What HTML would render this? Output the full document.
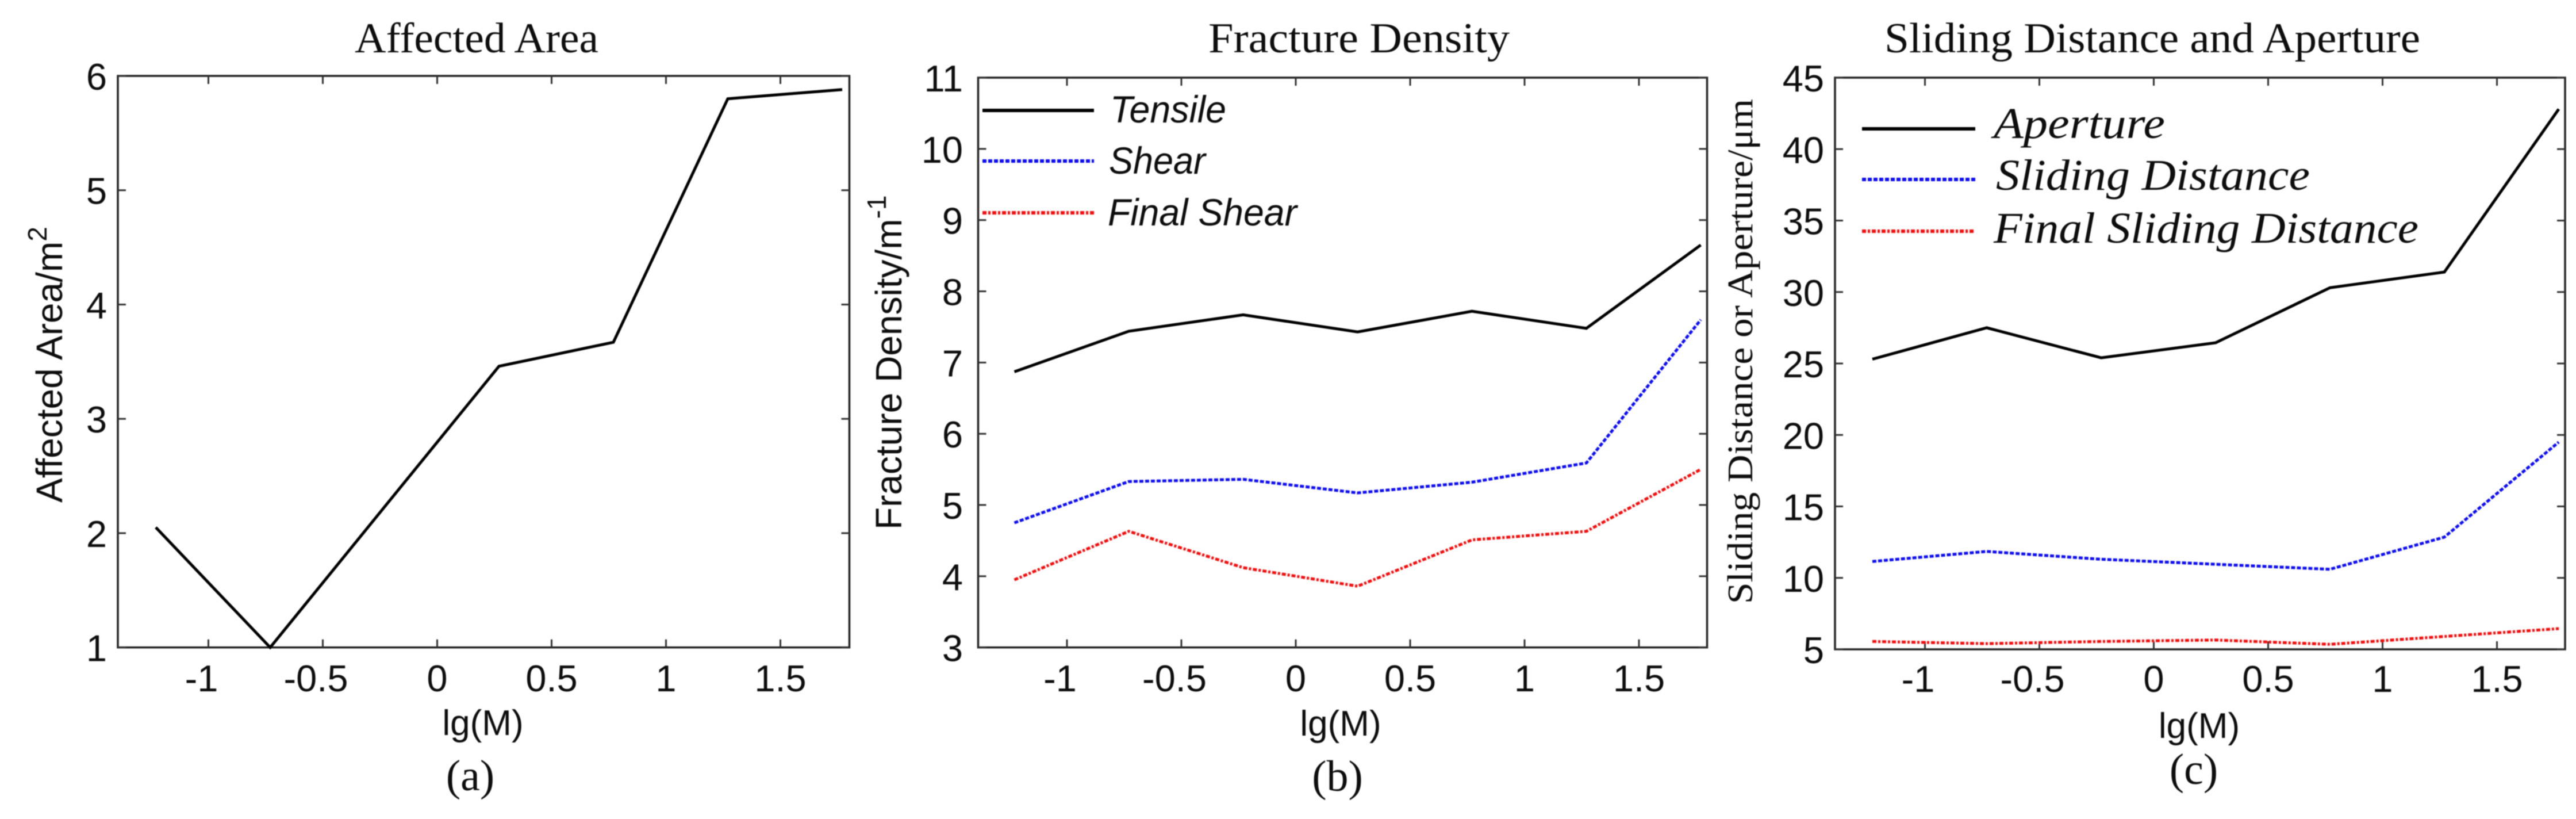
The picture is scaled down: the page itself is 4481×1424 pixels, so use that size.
<!DOCTYPE html>
<html>
<head>
<meta charset="utf-8">
<title>Affected Area, Fracture Density, Sliding Distance and Aperture</title>
<style>
html,body{margin:0;padding:0;background:#fff;width:4481px;height:1424px;overflow:hidden}
svg{display:block}
.sans{font-family:"Liberation Sans",sans-serif;fill:#111}
.serif{font-family:"Liberation Serif",serif;fill:#111}
</style>
</head>
<body>
<svg id="fig" xmlns="http://www.w3.org/2000/svg" width="4481" height="1424" viewBox="0 0 4481 1424">
<defs><filter id="soft" x="-2%" y="-2%" width="104%" height="104%"><feGaussianBlur stdDeviation="0.8"/></filter></defs>
<rect width="4481" height="1424" fill="#fff"/>
<g id="root" filter="url(#soft)"></g>
</svg>
<script>
const lgM = [-1.23, -0.73, -0.23, 0.27, 0.77, 1.27, 1.77];
const xTickValues = [-1, -0.5, 0, 0.5, 1, 1.5];
const xTickLabels = ['-1', '-0.5', '0', '0.5', '1', '1.5'];

const affectedArea = [2.05, 1.0, 2.23, 3.46, 3.67, 5.8, 5.88];
const areaTicks = [1, 2, 3, 4, 5, 6];

const tensileDensity = [6.87, 7.44, 7.67, 7.43, 7.72, 7.48, 8.65];
const shearDensity = [4.75, 5.33, 5.36, 5.17, 5.32, 5.59, 7.6];
const finalShearDensity = [3.95, 4.63, 4.12, 3.86, 4.51, 4.63, 5.5];
const densityTicks = [3, 4, 5, 6, 7, 8, 9, 10, 11];

const aperture = [25.3, 27.5, 25.4, 26.45, 30.3, 31.4, 42.8];
const slidingDistance = [11.15, 11.85, 11.3, 10.95, 10.6, 12.85, 19.5];
const finalSlidingDistance = [5.55, 5.4, 5.55, 5.65, 5.35, 5.9, 6.45];
const apertureTicks = [5, 10, 15, 20, 25, 30, 35, 40, 45];

const NS = 'http://www.w3.org/2000/svg';
const root = document.getElementById('root');
const SOLID = {color: '#000', dash: ''};
const BLUE = {color: '#0a0af5', dash: '7 3'};
const RED = {color: '#f50a0a', dash: '7 3 4 3'};

function make(parent, tag, attrs, name, text) {
  const el = document.createElementNS(NS, tag);
  for (const k in attrs) el.setAttribute(k, attrs[k]);
  
  
  if (text !== undefined) el.textContent = text;
  parent.appendChild(el);
  return el;
}

function drawPanel(p) {
  const g = make(root, 'g', {}, p.id + '-panel');
  const xs = v => p.x0Px + (v - p.x0Val) * p.xUnit;
  const ys = v => p.bottom - (v - p.yMin) / (p.yMax - p.yMin) * (p.bottom - p.top);

  make(g, 'rect', {x: p.left, y: p.top, width: p.right - p.left, height: p.bottom - p.top, fill: 'none', stroke: '#222', 'stroke-width': 3.5}, p.id + '-plot-frame');

  xTickValues.forEach((v, i) => {
    const x = xs(v);
    make(g, 'path', {d: `M${x} ${p.bottom}v-14M${x} ${p.top}v14`, stroke: '#333', 'stroke-width': 3, fill: 'none'}, p.id + '-x-tick');
    make(g, 'text', {x: x - (v < 0 ? 12 : 0), y: p.xTickY, 'text-anchor': 'middle', 'font-size': 65, class: 'sans'}, p.id + '-x-tick-label', xTickLabels[i]);
  });
  p.yTicks.forEach(v => {
    const y = ys(v);
    make(g, 'path', {d: `M${p.left} ${y}h14M${p.right} ${y}h-14`, stroke: '#333', 'stroke-width': 3, fill: 'none'}, p.id + '-y-tick');
    make(g, 'text', {x: p.yTickX, y: y + 24, 'text-anchor': 'end', 'font-size': 65, class: 'sans'}, p.id + '-y-tick-label', String(v));
  });

  p.series.forEach(s => {
    const pts = lgM.map((x, i) => xs(x).toFixed(1) + ',' + ys(s.values[i]).toFixed(1)).join(' ');
    make(g, 'polyline', {points: pts, fill: 'none', stroke: s.style.color, 'stroke-width': 5, 'stroke-dasharray': s.style.dash, 'stroke-linejoin': 'miter'}, p.id + '-' + s.name + '-line');
    if (s.legend) {
      const L = s.legend;
      make(g, 'line', {x1: p.legendX1, x2: p.legendX2, y1: L.lineY, y2: L.lineY, stroke: s.style.color, 'stroke-width': 6, 'stroke-dasharray': s.style.dash}, p.id + '-' + s.name + '-legend-swatch');
      make(g, 'text', {x: L.textX, y: L.textY, 'font-size': p.legendFont, 'font-style': 'italic', class: p.legendClass, textLength: L.textLen, lengthAdjust: 'spacingAndGlyphs'}, p.id + '-' + s.name + '-legend-label', s.label);
    }
  });

  make(g, 'text', {x: p.titleX, y: 91, 'font-size': 74, class: 'serif', textLength: p.titleLen, lengthAdjust: 'spacingAndGlyphs'}, p.id + '-title', p.title);
  make(g, 'text', {x: p.xLabelX, y: p.xLabelY, 'text-anchor': 'middle', 'font-size': 62, class: 'sans'}, p.id + '-x-axis-title', 'lg(M)');
  make(g, 'text', {x: p.capX, y: p.capY, 'text-anchor': 'middle', 'font-size': 76, class: 'serif'}, p.id + '-caption', p.caption);

  const yl = make(g, 'text', {transform: `translate(${p.yLabelX} ${p.yLabelY}) rotate(-90)`, 'font-size': p.yLabelFont, class: p.yLabelClass}, p.id + '-y-axis-title');
  if (p.yLabelLen) { yl.setAttribute('textLength', p.yLabelLen); yl.setAttribute('lengthAdjust', 'spacingAndGlyphs'); }
  yl.appendChild(document.createTextNode(p.yLabel));
  if (p.yLabelSup) {
    make(yl, 'tspan', {dy: -27, 'font-size': 46}, p.id + '-y-axis-title-exponent', p.yLabelSup);
  }
}

drawPanel({
  id: 'affected-area', title: 'Affected Area', titleX: 617, titleLen: 424,
  left: 205, right: 1477.5, top: 132, bottom: 1125.7,
  x0Px: 760.5, x0Val: 0, xUnit: 398,
  yMin: 1, yMax: 6, yTicks: areaTicks,
  xTickY: 1202, yTickX: 186,
  xLabelX: 840, xLabelY: 1278, capX: 818, capY: 1374, caption: '(a)',
  yLabel: 'Affected Area/m', yLabelSup: '2', yLabelX: 108, yLabelY: 874, yLabelFont: 64, yLabelClass: 'sans',
  legendX1: 0, legendX2: 0, legendFont: 66, legendClass: 'sans',
  series: [{name: 'affected-area', values: affectedArea, style: SOLID}]
});

drawPanel({
  id: 'fracture-density', title: 'Fracture Density', titleX: 2102, titleLen: 524,
  left: 1701.5, right: 2969.5, top: 135, bottom: 1125.7,
  x0Px: 2254, x0Val: 0, xUnit: 398,
  yMin: 3, yMax: 11, yTicks: densityTicks,
  xTickY: 1202, yTickX: 1675,
  xLabelX: 2332, xLabelY: 1279, capX: 2326.5, capY: 1375, caption: '(b)',
  yLabel: 'Fracture Density/m', yLabelSup: '-1', yLabelX: 1568, yLabelY: 921, yLabelFont: 64, yLabelClass: 'sans',
  legendX1: 1709, legendX2: 1903, legendFont: 66, legendClass: 'sans',
  series: [
    {name: 'tensile', label: 'Tensile', values: tensileDensity, style: SOLID, legend: {lineY: 192, textX: 1931, textY: 213, textLen: 202}},
    {name: 'shear', label: 'Shear', values: shearDensity, style: BLUE, legend: {lineY: 280, textX: 1929, textY: 302, textLen: 168}},
    {name: 'final-shear', label: 'Final Shear', values: finalShearDensity, style: RED, legend: {lineY: 370, textX: 1927, textY: 392, textLen: 329}}
  ]
});

drawPanel({
  id: 'sliding-aperture', title: 'Sliding Distance and Aperture', titleX: 3278, titleLen: 932,
  left: 3192, right: 4462, top: 135, bottom: 1129,
  x0Px: 3746.5, x0Val: 0, xUnit: 398,
  yMin: 5, yMax: 45, yTicks: apertureTicks,
  xTickY: 1203, yTickX: 3173,
  xLabelX: 3825.5, xLabelY: 1283, capX: 3816, capY: 1363, caption: '(c)',
  yLabel: 'Sliding Distance or Aperture/μm', yLabelX: 3048, yLabelY: 1050, yLabelFont: 62, yLabelClass: 'serif', yLabelLen: 878,
  legendX1: 3239, legendX2: 3436, legendFont: 76, legendClass: 'serif',
  series: [
    {name: 'aperture', label: 'Aperture', values: aperture, style: SOLID, legend: {lineY: 224, textX: 3468, textY: 240, textLen: 298}},
    {name: 'sliding-distance', label: 'Sliding Distance', values: slidingDistance, style: BLUE, legend: {lineY: 312, textX: 3472, textY: 330, textLen: 546}},
    {name: 'final-sliding-distance', label: 'Final Sliding Distance', values: finalSlidingDistance, style: RED, legend: {lineY: 402, textX: 3468, textY: 422, textLen: 739}}
  ]
});
</script>
</body>
</html>
